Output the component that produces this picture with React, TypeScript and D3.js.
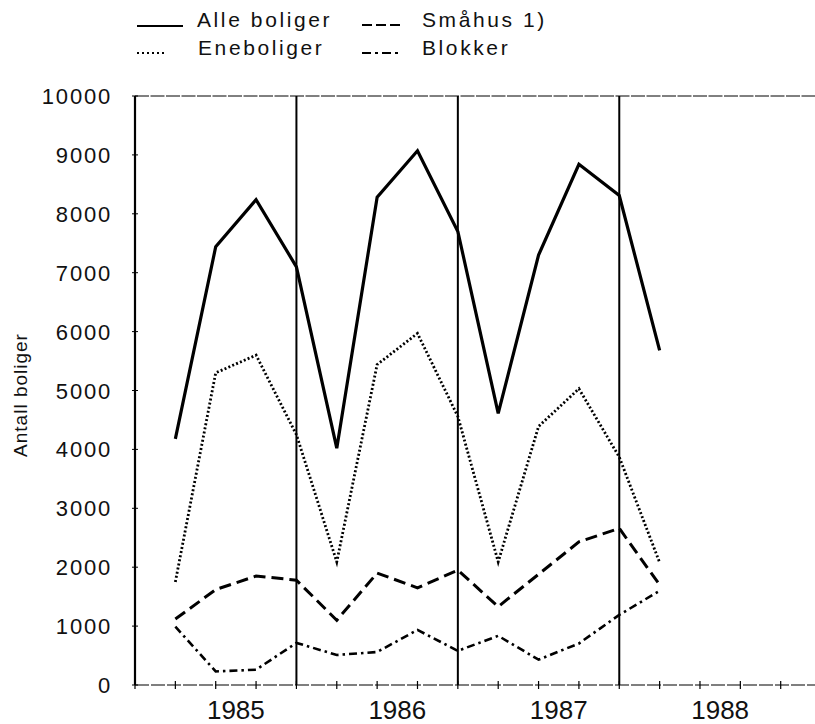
import React from "react";
import * as d3 from "d3";

const quarters = [1, 2, 3, 4, 5, 6, 7, 8, 9, 10, 11, 12, 13];
const alleBoliger = [4180, 7440, 8240, 7100, 4020, 8280, 9070, 7700, 4610, 7300, 8840, 8310, 5680];
const eneboliger = [1750, 5300, 5600, 4250, 2090, 5440, 5970, 4560, 2090, 4390, 5030, 3870, 2080];
const smahus = [1120, 1620, 1850, 1780, 1100, 1900, 1650, 1950, 1330, 1880, 2430, 2660, 1700];
const blokker = [990, 230, 260, 715, 510, 560, 935, 580, 835, 430, 705, 1190, 1600];
const yTicks = [0, 1000, 2000, 3000, 4000, 5000, 6000, 7000, 8000, 9000, 10000];
const yearLabels = ["1985", "1986", "1987", "1988"];
const xTickIdx = d3.range(0, 17);
const yearLineIdx = [4, 8, 12];

const W = 815, H = 724;
const x = d3.scaleLinear().domain([0, 16.85]).range([135, 815]);
const y = d3.scaleLinear().domain([0, 10000]).range([685, 96]);

const series = [
  { name: "Alle boliger", data: alleBoliger, width: 3.2, dash: "" },
  { name: "Eneboliger", data: eneboliger, width: 2.8, dash: "2,2.2" },
  { name: "Småhus 1)", data: smahus, width: 3, dash: "12,6" },
  { name: "Blokker", data: blokker, width: 2.6, dash: "8,4,2.5,4" },
];

const font = "'Liberation Sans', Arial, sans-serif";

export default function App() {
  const line = (data: number[]) =>
    d3.line<number>().x((_, i) => x(quarters[i])).y((v) => y(v))(data) || "";
  return (
    <svg width={W} height={H} style={{ position: "absolute", left: 0, top: 0, background: "#fff" }}>
      <rect width={W} height={H} fill="#fff" />
      {/* legend */}
      <g fontFamily={font} fontSize={21} fill="#111" letterSpacing={2.6}>
        <line x1={137} x2={183} y1={26} y2={26} stroke="#000" strokeWidth={2} />
        <text x={197} y={27}>Alle boliger</text>
        <line x1={362} x2={400} y1={25} y2={25} stroke="#000" strokeWidth={2.2} strokeDasharray="10,4" />
        <text x={422} y={27}>Småhus 1)</text>
        <line x1={137} x2={166} y1={53} y2={53} stroke="#000" strokeWidth={2} strokeDasharray="2,3" />
        <text x={198} y={55}>Eneboliger</text>
        <line x1={362} x2={400} y1={53} y2={53} stroke="#000" strokeWidth={2.2} strokeDasharray="9,4,3,4" />
        <text x={422} y={55}>Blokker</text>
      </g>
      {/* top border */}
      <line x1={x(0)} x2={815} y1={y(10000)} y2={y(10000)} stroke="#000" strokeWidth={1} strokeDasharray="14,1.5" />
      {/* y axis */}
      <line x1={x(0)} x2={x(0)} y1={y(10000)} y2={y(0)} stroke="#000" strokeWidth={2.2} />
      {yTicks.map((t) => (
        <g key={t}>
          <line x1={x(0) - 3} x2={x(0) + 3} y1={y(t)} y2={y(t)} stroke="#000" strokeWidth={1} />
          <text x={112} y={y(t) + 8} textAnchor="end" fontFamily={font} fontSize={22} letterSpacing={1.8} fill="#111">
            {t}
          </text>
        </g>
      ))}
      {/* x axis */}
      <line x1={x(0)} x2={815} y1={y(0)} y2={y(0)} stroke="#000" strokeWidth={1.2} strokeDasharray="14,2" />
      {xTickIdx.map((i) => (
        <line key={i} x1={x(i)} x2={x(i)} y1={y(0) - 4} y2={y(0) + 4} stroke="#000" strokeWidth={1.2} />
      ))}
      {yearLabels.map((lab, k) => (
        <text key={lab} x={x(k * 4 + 2.5)} y={719} textAnchor="middle" fontFamily={font} fontSize={26} fill="#111">
          {lab}
        </text>
      ))}
      {/* year separators */}
      {yearLineIdx.map((i) => (
        <line key={i} x1={x(i)} x2={x(i)} y1={y(10000)} y2={y(0)} stroke="#000" strokeWidth={2} />
      ))}
      {/* y title */}
      <text
        transform={`translate(27,${395}) rotate(-90)`}
        textAnchor="middle"
        fontFamily={font}
        fontSize={19}
        letterSpacing={1}
        fill="#111"
      >
        Antall boliger
      </text>
      {/* series */}
      {series.map((s) => (
        <path
          key={s.name}
          d={line(s.data)}
          fill="none"
          stroke="#000"
          strokeWidth={s.width}
          strokeDasharray={s.dash || undefined}
          strokeLinejoin="miter"
        />
      ))}
    </svg>
  );
}
